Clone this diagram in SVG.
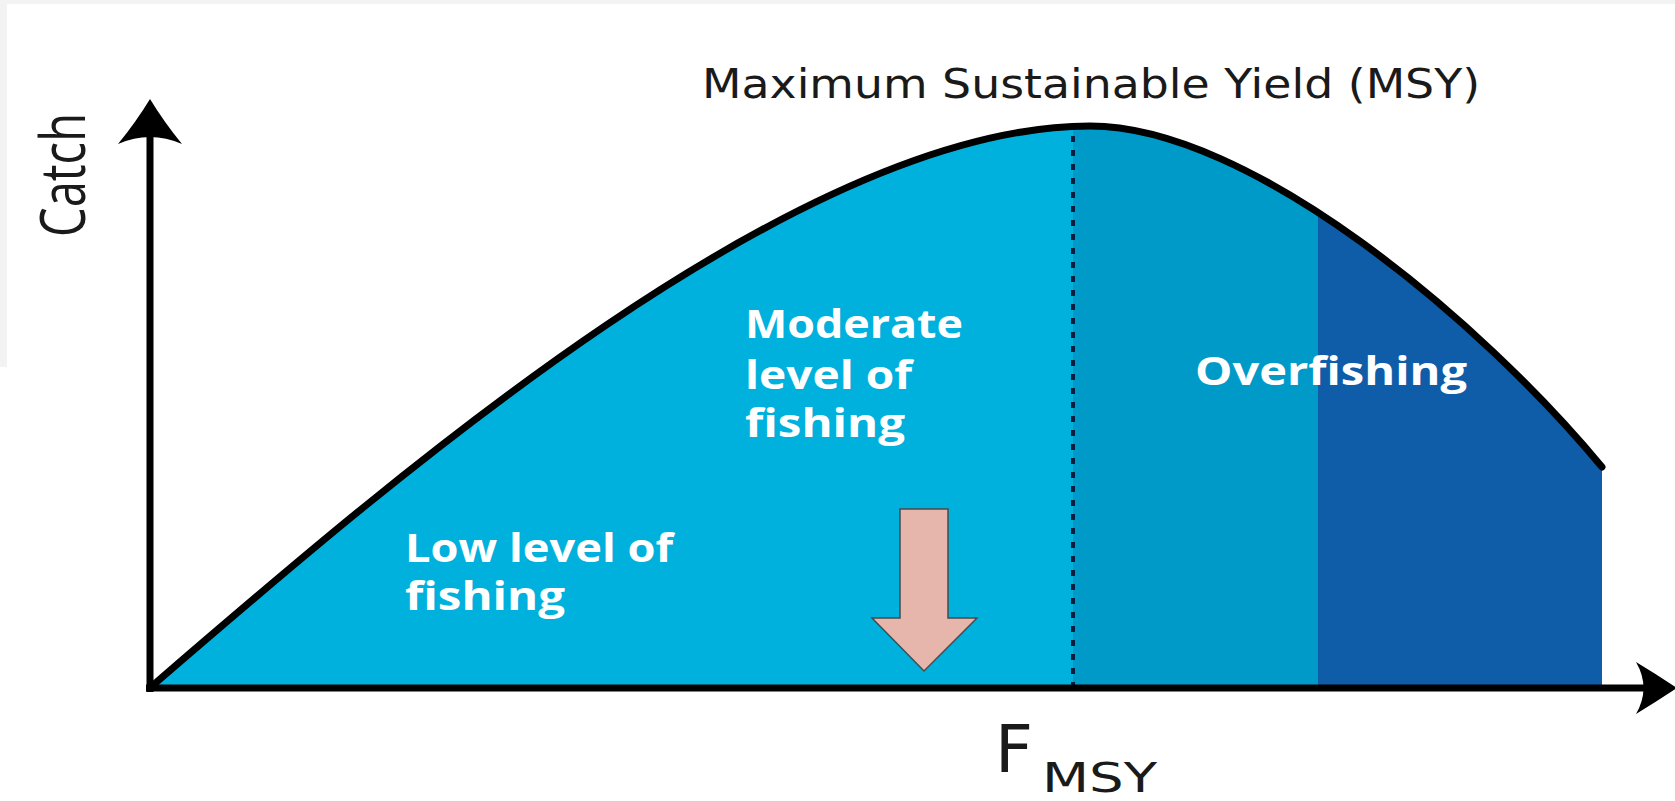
<svg xmlns="http://www.w3.org/2000/svg" width="1675" height="801" viewBox="0 0 1675 801">
  <style>
    .lbl { font-family: "Open Sans", "Liberation Sans", sans-serif; font-weight: 700; font-size: 39px; fill: #ffffff; }
    .ttl { font-family: "DejaVu Sans", "Liberation Sans", sans-serif; font-size: 41px; fill: #1a1a1a; }
    .axl { font-family: "Open Sans", "Liberation Sans", sans-serif; font-size: 62px; fill: #1a1a1a; }
    .fm { font-family: "DejaVu Sans", "Liberation Sans", sans-serif; fill: #1a1a1a; }
    .axis { stroke: #000; stroke-width: 7; fill: none; }
    .head { fill: #000; }
  </style>
  <defs>
    <clipPath id="under">
      <path d="M150,686 C400,472 800,126 1090,126 C1250,126 1480,320 1602,467 L1602,688 L150,688 Z"/>
    </clipPath>
  </defs>
  <rect x="0" y="0" width="1675" height="801" fill="#ffffff"/>
  <g id="frame">
    <rect x="0" y="0" width="1675" height="4" fill="#f3f3f3"/>
    <rect x="0" y="0" width="7" height="367" fill="#f3f3f3"/>
  </g>
  <g id="regions" clip-path="url(#under)">
    <rect id="low-moderate" x="150" y="100" width="923" height="590" fill="#00b1dd"/>
    <rect id="msy-zone" x="1073" y="100" width="245" height="590" fill="#009ac9"/>
    <rect id="overfishing-zone" x="1318" y="100" width="290" height="590" fill="#0f5ca8"/>
  </g>
  <g id="connectors">
    <line x1="1073" y1="136" x2="1073" y2="686" stroke="#0b1d3f" stroke-width="4" stroke-dasharray="6 8"/>
    <path id="yield-curve" d="M152,686 C400,472 800,126 1090,126 C1250,126 1480,320 1602,467" fill="none" stroke="#000" stroke-width="7" stroke-linecap="round"/>
    <line class="axis" x1="150" y1="128" x2="150" y2="692"/>
    <path class="head" d="M150,99 Q164,122 182,144 Q150,130 118,144 Q136,122 150,99 Z"/>
    <line class="axis" x1="146" y1="688" x2="1650" y2="688"/>
    <path class="head" d="M1677,688 Q1656,702 1636,714 Q1651,688 1636,662 Q1656,674 1677,688 Z"/>
    <polygon id="pink-arrow" points="900,509 948,509 948,618 977,618 924,671 872,618 900,618" fill="#e6b5ac" stroke="#4a4a4a" stroke-width="1.5"/>
  </g>
  <g id="title">
    <text class="ttl" x="702" y="98" textLength="778" lengthAdjust="spacingAndGlyphs">Maximum Sustainable Yield (MSY)</text>
  </g>
  <g id="y-label">
    <text class="axl" transform="translate(85,237) rotate(-90)" x="0" y="0" textLength="124" lengthAdjust="spacingAndGlyphs">Catch</text>
  </g>
  <g id="x-label">
    <text class="fm" x="995" y="772" font-size="66">F<tspan x="1042" y="792" font-size="41" textLength="115" lengthAdjust="spacingAndGlyphs">MSY</tspan></text>
  </g>
  <g id="label-low">
    <text class="lbl"><tspan x="405" y="562" textLength="268" lengthAdjust="spacingAndGlyphs">Low level of</tspan><tspan x="405" y="610" textLength="160" lengthAdjust="spacingAndGlyphs">fishing</tspan></text>
  </g>
  <g id="label-moderate">
    <text class="lbl"><tspan x="745" y="338" textLength="218" lengthAdjust="spacingAndGlyphs">Moderate</tspan><tspan x="745" y="389" textLength="167" lengthAdjust="spacingAndGlyphs">level of</tspan><tspan x="745" y="437" textLength="160" lengthAdjust="spacingAndGlyphs">fishing</tspan></text>
  </g>
  <g id="label-overfishing">
    <text class="lbl" x="1195" y="385" textLength="272" lengthAdjust="spacingAndGlyphs">Overfishing</text>
  </g>
</svg>
